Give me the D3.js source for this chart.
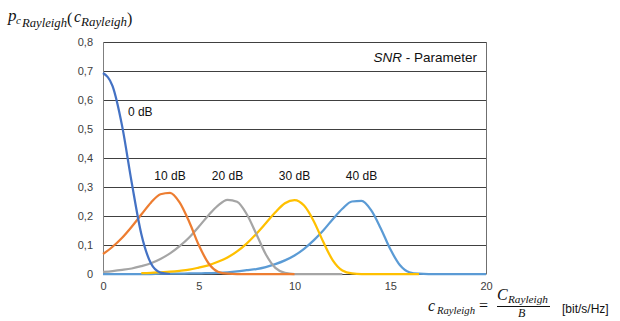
<!DOCTYPE html>
<html>
<head>
<meta charset="utf-8">
<script src="https://cdn.jsdelivr.net/npm/d3@7"></script>
<style>
  body { margin: 0; background: #fff; }
  svg { display: block; font-family: "Liberation Sans", Arial, sans-serif; }
  .tick text { fill: #404040; font-size: 11px; }
  .math { font-family: "Liberation Serif", serif; font-style: italic; fill: #111; }
</style>
</head>
<body>
<svg width="620" height="321"></svg>
<script>
// x positions (bit/s/Hz), shared by every series
var xValues = [0,0.5,1,1.5,2,2.5,3,3.5,4,4.5,5,5.5,6,6.5,7,7.5,8,8.5,9,9.5,10,
  10.5,11,11.5,12,12.5,13,13.5,14,14.5,15,15.5,16,16.5,17,17.5,18,18.5,19,19.5,20];

// density, null = series not drawn there
var snr0 = [0.693,0.648,0.510,0.315,0.138,0.037,0.005,0.000,
  null,null,null,null,null,null,null,null,null,null,null,null,null,null,null,null,null,
  null,null,null,null,null,null,null,null,null,null,null,null,null,null,null,null];
var snr10 = [0.069,0.094,0.125,0.163,0.205,0.246,0.275,0.280,0.247,0.180,0.100,0.038,
  0.008,0.001,0,0,0,0,0,0,0,
  null,null,null,null,null,null,null,null,null,null,null,null,null,null,null,null,null,null,null,null];
var snr20 = [0.007,0.010,0.014,0.019,0.027,0.037,0.052,0.071,0.096,0.126,0.163,0.202,
  0.236,0.256,0.249,0.207,0.139,0.068,0.021,0.004,0,0,0,0,0,0,
  null,null,null,null,null,null,null,null,null,null,null,null,null,null,null];
var snr30 = [null,null,null,null,
  0.003,0.004,0.006,0.008,0.011,0.015,0.022,0.030,0.042,0.057,
  0.078,0.105,0.138,0.175,0.213,0.244,0.255,0.236,0.183,0.111,
  0.047,0.012,0.002,0,0,0,0,0,0,0,
  null,null,null,null,null,null,null];
var snr40 = [0,0,0,0,0,0,0.001,0.001,0.001,0.002,0.002,0.003,0.004,0.006,0.009,0.013,
  0.017,0.024,0.034,0.047,0.064,0.087,0.116,0.150,0.189,0.225,0.250,0.252,0.220,0.158,
  0.086,0.031,0.006,0.001,0,0,0,0,0,0,0];

var seriesNames = ['0 dB', '10 dB', '20 dB', '30 dB', '40 dB'];
var seriesValues = [snr0, snr10, snr20, snr30, snr40];
var seriesColors = ['#4472c4', '#ed7d31', '#a5a5a5', '#ffc000', '#5b9bd5'];

var yTicks = [0, 0.1, 0.2, 0.3, 0.4, 0.5, 0.6, 0.7, 0.8];
var xTicks = [0, 5, 10, 15, 20];

var svg = d3.select('svg');

// plot box in pixels
var plot = {l: 103, r: 486, t: 42, b: 274};

var x = d3.scaleLinear().domain([0, 20]).range([plot.l, plot.r]);
var y = d3.scaleLinear().domain([0, 0.8]).range([plot.b, plot.t]);

// horizontal gridlines
svg.append('g')
  .selectAll('line')
  .data(yTicks)
  .enter().append('line')
  .attr('x1', plot.l).attr('x2', plot.r)
  .attr('y1', function(d) { return Math.round(y(d)) + 0.5; })
  .attr('y2', function(d) { return Math.round(y(d)) + 0.5; })
  .attr('stroke', '#404040')
  .attr('stroke-width', 1.2);

// left and right frame
svg.append('line')
  .attr('x1', plot.l + 0.5).attr('x2', plot.l + 0.5)
  .attr('y1', plot.t).attr('y2', plot.b + 0.5)
  .attr('stroke', '#7f7f7f');
svg.append('line')
  .attr('x1', plot.r + 0.5).attr('x2', plot.r + 0.5)
  .attr('y1', plot.t).attr('y2', plot.b + 0.5)
  .attr('stroke', '#6f6f6f');

// y axis labels with comma decimals
var yAxis = d3.axisLeft(y).tickValues(yTicks).tickSize(0).tickPadding(10)
  .tickFormat(function(d) { return d === 0 ? '0' : d3.format('.1f')(d).replace('.', ','); });
svg.append('g')
  .attr('transform', 'translate(' + plot.l + ',0)')
  .call(yAxis)
  .call(function(g) { g.select('.domain').remove(); });

var xAxis = d3.axisBottom(x).tickValues(xTicks).tickSize(0).tickPadding(8);
svg.append('g')
  .attr('transform', 'translate(0,' + plot.b + ')')
  .call(xAxis)
  .call(function(g) { g.select('.domain').remove(); });

// curves, last series drawn first so the 0 dB line sits on top
var line = d3.line()
  .defined(function(d) { return d[1] !== null; })
  .x(function(d) { return x(d[0]); })
  .y(function(d) { return y(d[1]); })
  .curve(d3.curveMonotoneX);

var order = [4, 3, 2, 1, 0];
order.forEach(function(i) {
  var pts = xValues.map(function(xv, k) { return [xv, seriesValues[i][k]]; });
  svg.append('path')
    .datum(pts)
    .attr('fill', 'none')
    .attr('stroke', seriesColors[i])
    .attr('stroke-width', 2.25)
    .attr('stroke-linejoin', 'round')
    .attr('d', line);
});

// curve labels, placed above each peak
svg.append('text')
  .attr('x', x(1.3)).attr('y', y(0.558) + 4)
  .style('font-size', '12px').attr('fill', '#111')
  .text(seriesNames[0]);
[1, 2, 3, 4].forEach(function(i) {
  var vals = seriesValues[i];
  var best = d3.maxIndex(vals);
  svg.append('text')
    .attr('x', x(xValues[best]))
    .attr('y', y(0.338) + 4)
    .attr('text-anchor', 'middle')
    .style('font-size', '12px').attr('fill', '#111')
    .text(seriesNames[i]);
});

// legend-like caption
var cap = svg.append('text')
  .attr('x', 477).attr('y', 62)
  .attr('text-anchor', 'end')
  .style('font-size', '13.5px').attr('fill', '#111');
cap.append('tspan').style('font-style', 'italic').text('SNR');
cap.append('tspan').text(' - Parameter');

// y title: p_{c_Rayleigh}(c_Rayleigh)
function mtext(tx, ty, size, str, len) {
  var t = svg.append('text').attr('class', 'math')
    .attr('x', tx).attr('y', ty).style('font-size', size + 'px').text(str);
  if (len) t.attr('textLength', len).attr('lengthAdjust', 'spacingAndGlyphs');
  return t;
}
mtext(8, 21, 17, 'p');
mtext(16, 24, 11, 'c');
mtext(22, 27, 11.5, 'Rayleigh', 45);
mtext(67, 24, 16, '(').style('font-style', 'normal');
mtext(74, 22, 16, 'c');
mtext(81, 26, 11.5, 'Rayleigh', 46);
mtext(127, 24, 16, ')').style('font-style', 'normal');

// x title: c_Rayleigh = C_Rayleigh / B  [bit/s/Hz]
mtext(428, 311, 16, 'c');
mtext(437, 314, 11, 'Rayleigh', 38);
mtext(479, 311, 16, '=').style('font-style', 'normal');
mtext(497, 300, 16, 'C');
mtext(508, 303, 11, 'Rayleigh', 40);
svg.append('line')
  .attr('x1', 497).attr('x2', 550)
  .attr('y1', 306.5).attr('y2', 306.5)
  .attr('stroke', '#111').attr('stroke-width', 1);
mtext(518, 317, 12, 'B');
svg.append('text')
  .attr('x', 562).attr('y', 313)
  .style('font-size', '12px').attr('fill', '#111')
  .text('[bit/s/Hz]');
</script>
</body>
</html>
